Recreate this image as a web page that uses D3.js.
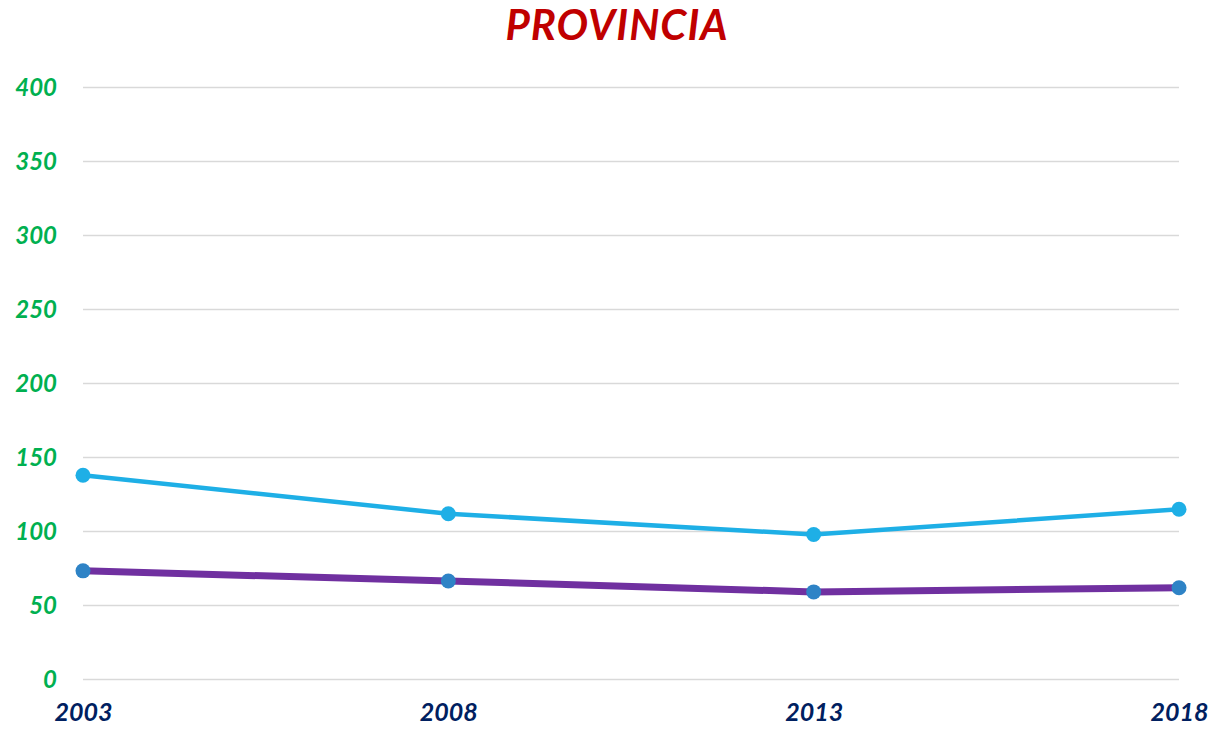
<!DOCTYPE html>
<html>
<head>
<meta charset="utf-8">
<script src="https://cdn.jsdelivr.net/npm/d3@7"></script>
<style>
  body { margin: 0; background: #fff; }
  svg { display: block; font-family: Lato, "Open Sans", sans-serif; }
</style>
</head>
<body>
<div id="chart"></div>
<script>
// data
const years = ['2003', '2008', '2013', '2018'];
const seriesTop = [138, 112, 98, 115];
const seriesBottom = [73.4, 66.6, 59.2, 62];
const yTicks = [0, 50, 100, 150, 200, 250, 300, 350, 400];

const width = 1215, height = 729;
const margin = { top: 87.5, right: 36, bottom: 49.5, left: 83 };

const svg = d3.select('#chart').append('svg')
  .attr('width', width)
  .attr('height', height);

const x = d3.scalePoint().domain(years).range([margin.left, width - margin.right]);
const y = d3.scaleLinear().domain([0, 400]).range([height - margin.bottom, margin.top]);

// title
svg.append('text')
  .attr('x', 617).attr('y', 40)
  .attr('text-anchor', 'middle')
  .attr('fill', '#C00000')
  .style('font-size', '42px')
  .style('font-weight', 'bold')
  .style('font-style', 'italic')
  .style('letter-spacing', '1px')
  .text('PROVINCIA');

// gridlines
svg.append('g')
  .selectAll('line')
  .data(yTicks)
  .enter().append('line')
  .attr('x1', margin.left).attr('x2', width - margin.right)
  .attr('y1', d => y(d)).attr('y2', d => y(d))
  .attr('stroke', '#d9d9d9')
  .attr('stroke-width', 1.5);

// y axis labels
const yAxis = svg.append('g')
  .attr('transform', `translate(${margin.left - 26},0)`)
  .call(d3.axisLeft(y).tickValues(yTicks).tickSize(0).tickPadding(0));
yAxis.select('.domain').remove();
yAxis.selectAll('text')
  .attr('fill', '#00B050')
  .style('font-family', 'Lato, sans-serif')
  .style('font-size', '24px')
  .style('font-weight', 'bold')
  .style('font-style', 'italic');

// x axis labels
const xAxis = svg.append('g')
  .attr('transform', `translate(0,${height - margin.bottom + 24})`)
  .call(d3.axisBottom(x).tickSize(0).tickPadding(0));
xAxis.select('.domain').remove();
xAxis.selectAll('text')
  .attr('fill', '#002060')
  .style('font-family', 'Lato, sans-serif')
  .style('font-size', '25px')
  .style('font-weight', 'bold')
  .style('font-style', 'italic');

const line = d3.line()
  .x((d, i) => x(years[i]))
  .y(d => y(d));

// bottom series (purple line, blue markers)
svg.append('path')
  .datum(seriesBottom)
  .attr('fill', 'none')
  .attr('stroke', '#7030A0')
  .attr('stroke-width', 7)
  .attr('stroke-linejoin', 'round')
  .attr('d', line);
svg.selectAll('.dot-b')
  .data(seriesBottom)
  .enter().append('circle')
  .attr('cx', (d, i) => x(years[i]))
  .attr('cy', d => y(d))
  .attr('r', 7.5)
  .attr('fill', '#2E83C6');

// top series (light blue)
svg.append('path')
  .datum(seriesTop)
  .attr('fill', 'none')
  .attr('stroke', '#1EAFE6')
  .attr('stroke-width', 4.5)
  .attr('stroke-linejoin', 'round')
  .attr('d', line);
svg.selectAll('.dot-t')
  .data(seriesTop)
  .enter().append('circle')
  .attr('cx', (d, i) => x(years[i]))
  .attr('cy', d => y(d))
  .attr('r', 7.5)
  .attr('fill', '#1EAFE6');
</script>
</body>
</html>
